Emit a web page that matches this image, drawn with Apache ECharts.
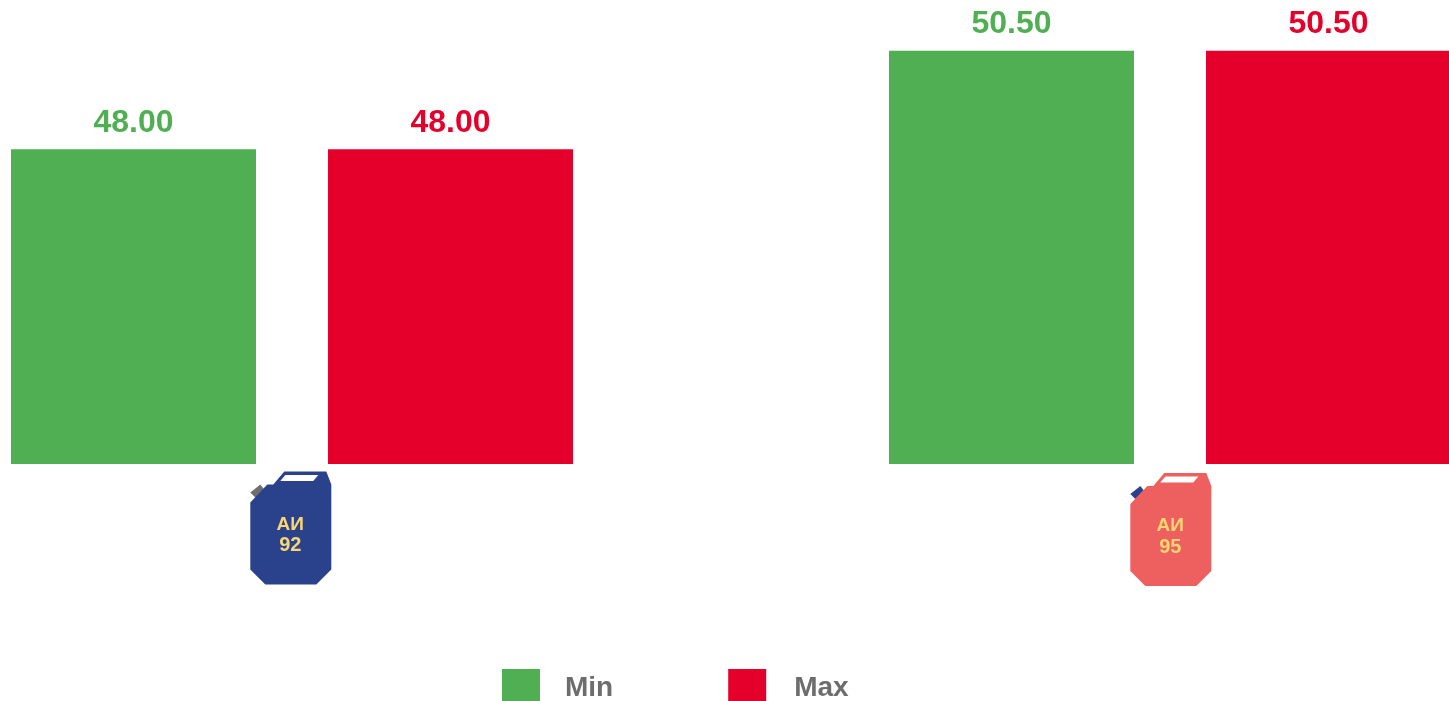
<!DOCTYPE html>
<html>
<head>
<meta charset="utf-8">
<title>Fuel prices</title>
<script src="https://cdn.jsdelivr.net/npm/echarts@6/dist/echarts.min.js"></script>
<style>
	html, body { margin: 0; padding: 0; background: #fff; overflow: hidden; }
	#main { width: 1449px; height: 701px; }
</style>
</head>
<body>
<div id="main"></div>
<script>
var categories = ['АИ 92', 'АИ 95'];
var minValues = [48.00, 50.50];
var maxValues = [48.00, 50.50];
var axisMin = 40;
var axisMax = 52;

var FONT = '"Liberation Sans", Arial, sans-serif';
var GREEN = '#4faf52';
var RED = '#e4002b';

// canister drawing, relative to the middle of its top edge
var canBody = [[-40, 31], [-23, 13], [-17, 13], [-6, 0], [36, 0], [41, 13], [41, 98], [26, 113], [-25, 113], [-40, 98]];
var canWindow = [[-5, 3.5], [28, 3.5], [23, 9.5], [-10, 9.5]];
var canCap = [[-40, 21], [-30, 13], [-26, 18], [-35, 26]];
var canStyles = [
	{ body: '#2a428c', cap: '#6f6f6f', dx: -1.7, dy: 7.5 },
	{ body: '#ee6060', cap: '#2a428c', dx: 0.3, dy: 9 }
];

function renderCan(params, api) {
	var idx = api.value(0);
	var style = canStyles[idx];
	var pos = api.coord([idx, axisMin]);
	var parts = categories[idx].split(' ');
	var textFill = '#f9d671';
	return {
		type: 'group',
		x: pos[0] + style.dx,
		y: pos[1] + style.dy,
		children: [
			{ type: 'polygon', shape: { points: canCap }, style: { fill: style.cap } },
			{ type: 'polygon', shape: { points: canBody }, style: { fill: style.body } },
			{ type: 'polygon', shape: { points: canWindow }, style: { fill: '#fff' } },
			{
				type: 'text',
				x: 0,
				y: 53,
				style: { text: parts[0], fill: textFill, font: 'bold 19px ' + FONT, align: 'center', verticalAlign: 'middle' }
			},
			{
				type: 'text',
				x: 0,
				y: 74,
				style: { text: parts[1], fill: textFill, font: 'bold 20px ' + FONT, align: 'center', verticalAlign: 'middle' }
			}
		]
	};
}

function priceLabel(color) {
	return {
		show: true,
		position: 'top',
		distance: 10.5,
		color: color,
		fontFamily: FONT,
		fontWeight: 'bold',
		fontSize: 32,
		formatter: function (p) { return p.value.toFixed(2); }
	};
}

var chart = echarts.init(document.getElementById('main'), null, { renderer: 'canvas' });

var option = {
	animation: false,
	backgroundColor: '#fff',
	// the plot runs past the page edges, the last bar is cut by the window
	grid: { left: -147, top: -8.2, width: 1756, height: 472.2, containLabel: false, outerBoundsMode: 'none' },
	legend: {
		left: 502,
		top: 669,
		padding: 0,
		itemWidth: 38,
		itemHeight: 32,
		itemGap: 115,
		icon: 'rect',
		data: ['Min', 'Max'],
		// spacer tokens set the gap after the swatch and drop the text below its middle
		formatter: function (name) {
			return (name === 'Min' ? '{gapMin|}' : '{gapMax|}') + '{t|' + name + '}';
		},
		textStyle: {
			rich: {
				gapMin: { width: 20, height: 34 },
				gapMax: { width: 23, height: 34 },
				t: { color: '#6d6d6d', fontFamily: FONT, fontWeight: 'bold', fontSize: 28, lineHeight: 32, verticalAlign: 'bottom' }
			}
		}
	},
	xAxis: {
		type: 'category',
		data: categories,
		axisLine: { show: false },
		axisTick: { show: false },
		axisLabel: { show: false },
		splitLine: { show: false }
	},
	yAxis: {
		type: 'value',
		min: axisMin,
		max: axisMax,
		show: false,
		splitLine: { show: false }
	},
	series: [
		{
			name: 'Min',
			type: 'bar',
			data: minValues,
			barWidth: 245,
			barGap: '29.4%',
			itemStyle: { color: GREEN },
			label: priceLabel(GREEN)
		},
		{
			name: 'Max',
			type: 'bar',
			data: maxValues,
			barWidth: 245,
			itemStyle: { color: RED },
			label: priceLabel(RED)
		},
		{
			type: 'custom',
			silent: true,
			clip: false,
			renderItem: renderCan,
			data: categories.map(function (c, i) { return [i]; }),
			encode: { x: 0 }
		}
	]
};

chart.setOption(option);
</script>
</body>
</html>
